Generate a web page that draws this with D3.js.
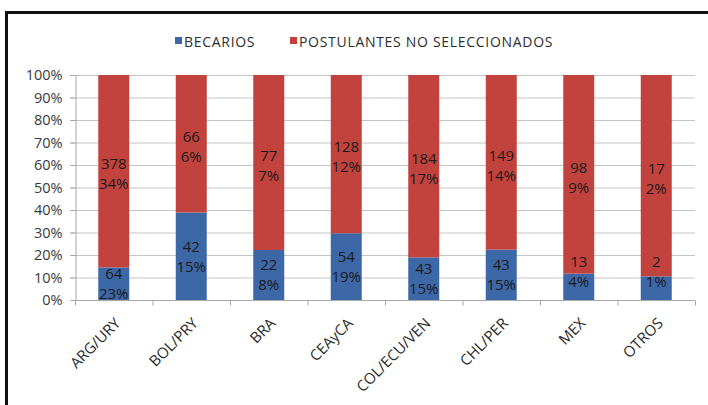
<!DOCTYPE html>
<html><head><meta charset="utf-8">
<script src="https://cdn.jsdelivr.net/npm/d3@7/dist/d3.min.js"></script>
<style>
html,body{margin:0;padding:0;background:#fff;}
svg{display:block;font-family:"Open Sans",sans-serif;}
</style></head>
<body>
<svg id="chart" width="708" height="405"></svg>
<script>
const categories = ["ARG/URY","BOL/PRY","BRA","CEAyCA","COL/ECU/VEN","CHL/PER","MEX","OTROS"];
const becarios = [64,42,22,54,43,43,13,2];
const postulantes = [378,66,77,128,184,149,98,17];
const becariosPct = ["23%","15%","8%","19%","15%","15%","4%","1%"];
const postulantesPct = ["34%","6%","7%","12%","17%","14%","9%","2%"];
const seriesNames = ["BECARIOS","POSTULANTES NO SELECCIONADOS"];
const yTicks = [0,0.1,0.2,0.3,0.4,0.5,0.6,0.7,0.8,0.9,1];

(function(){
const colors = ["#3d68a8","#c2433d"];
const svg = d3.select("#chart");

// frame
svg.append("path").attr("d","M6.5,405 V12.5 H708").attr("fill","none").attr("stroke","#111").attr("stroke-width",3);

const pL=75, pR=695, pT=75, pB=300;
const x = d3.scaleBand().domain(categories).range([pL,pR]).paddingInner(0.6).paddingOuter(0.3);
const y = d3.scaleLinear().domain([0,1]).range([pB,pT]);

// gridlines
svg.append("g").selectAll("line").data(yTicks.slice(1)).join("line")
  .attr("x1",pL-5).attr("x2",pR).attr("y1",d=>y(d)+0.5).attr("y2",d=>y(d)+0.5)
  .attr("stroke","#c4c4c4").attr("stroke-width",1);

// y axis
const yAxis = svg.append("g").attr("transform",`translate(${pL+0.5},0)`)
  .call(d3.axisLeft(y).tickValues(yTicks).tickFormat(d3.format(".0%")).tickSize(5).tickPadding(8));
yAxis.select(".domain").attr("stroke","#a8a8a8");
yAxis.selectAll(".tick line").attr("stroke","#a8a8a8");
yAxis.selectAll("text").attr("font-size",14.5).attr("fill","#3a3a3a").attr("font-family","Open Sans");

// stacked data
const rows = categories.map((c,i)=>({cat:c, b:becarios[i], p:postulantes[i], bp:becariosPct[i], pp:postulantesPct[i]}));
rows.forEach(r=>{ r.t=r.b+r.p; r.fb=r.b/r.t; });

const g = svg.append("g");
g.selectAll("rect.b").data(rows).join("rect").attr("class","b")
  .attr("x",d=>x(d.cat)).attr("width",x.bandwidth())
  .attr("y",d=>y(d.fb)).attr("height",d=>y(0)-y(d.fb)).attr("fill",colors[0]);
g.selectAll("rect.p").data(rows).join("rect").attr("class","p")
  .attr("x",d=>x(d.cat)).attr("width",x.bandwidth())
  .attr("y",y(1)).attr("height",d=>y(d.fb)-y(1)).attr("fill",colors[1]);

// x axis
const xAxisG = svg.append("g").attr("transform",`translate(0,${pB+0.5})`);
xAxisG.append("line").attr("x1",pL).attr("x2",pR).attr("stroke","#a8a8a8");
const bounds = d3.range(categories.length+1).map(i=>pL+i*x.step());
xAxisG.selectAll("line.t").data(bounds).join("line").attr("class","t")
  .attr("x1",d=>d+0.5).attr("x2",d=>d+0.5).attr("y1",0).attr("y2",5).attr("stroke","#a8a8a8");
xAxisG.selectAll("text").data(categories).join("text")
  .attr("transform",d=>`translate(${x(d)+x.bandwidth()/2+4},${20}) rotate(-45)`)
  .attr("text-anchor","end").attr("dy","0.35em")
  .attr("font-size",15).attr("fill","#2a2a2a").text(d=>d);

// labels
const lh = 20;
function addLabel(cx, cy, l1, l2){
  const t = svg.append("text").attr("text-anchor","middle").attr("font-size",15).attr("fill","#1a1a1a");
  t.append("tspan").attr("x",cx).attr("y",cy-lh/2).attr("dy","0.35em").text(l1);
  t.append("tspan").attr("x",cx).attr("y",cy+lh/2).attr("dy","0.35em").text(l2);
}
rows.forEach(r=>{
  const cx = x(r.cat)+x.bandwidth()/2;
  const segH = y(0)-y(r.fb);
  let cb = (y(0)+y(r.fb))/2;
  if (segH < 30) cb = y(0)-28;
  addLabel(cx, cb, r.b, r.bp);
  const cp = (y(r.fb)+y(1))/2 + 3;
  addLabel(cx, cp, r.p, r.pp);
});

// legend
const legend = svg.append("g");
const lx = [175, 290];
seriesNames.forEach((n,i)=>{
  legend.append("rect").attr("x",lx[i]).attr("y",37).attr("width",7).attr("height",7).attr("fill",colors[i]);
  legend.append("text").attr("x",lx[i]+9).attr("y",46.5).attr("font-size",14).attr("letter-spacing",0.7)
    .attr("fill","#2e2e2e").text(n);
});
})();
</script>
</body></html>
